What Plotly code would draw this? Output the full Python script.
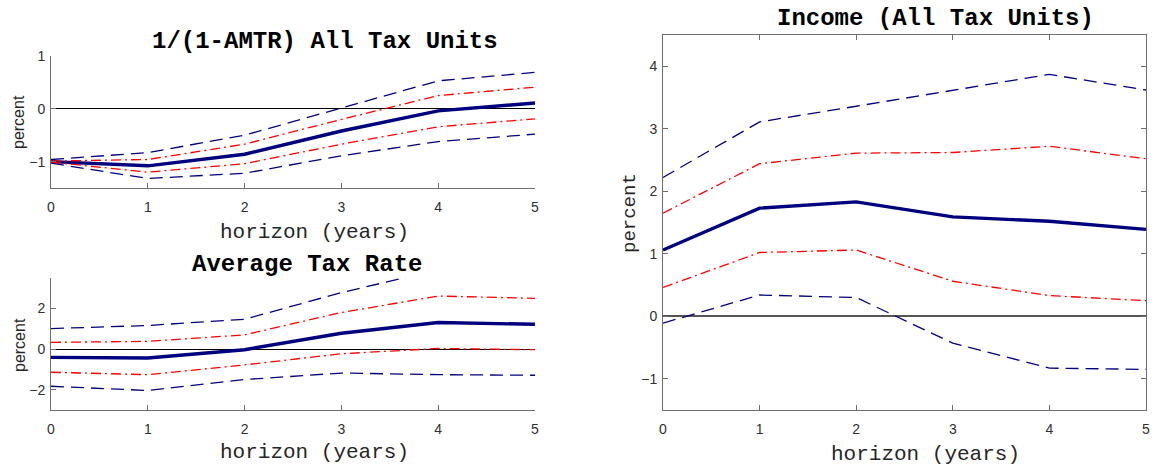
import plotly.graph_objects as go

# Impulse responses over a five-year horizon: point estimate with 68% and 90% bands
horizon = [0, 1, 2, 3, 4, 5]

amtr_mid = [-1.00, -1.08, -0.86, -0.42, -0.04, 0.11]
amtr_hi90 = [-0.96, -0.83, -0.50, 0.01, 0.53, 0.69]
amtr_hi68 = [-0.99, -0.96, -0.67, -0.20, 0.25, 0.41]
amtr_lo68 = [-1.01, -1.20, -1.04, -0.67, -0.34, -0.19]
amtr_lo90 = [-1.03, -1.32, -1.22, -0.89, -0.62, -0.48]

atr_mid = [-0.41, -0.44, -0.03, 0.78, 1.31, 1.22]
atr_hi90 = [1.01, 1.16, 1.47, 2.78, 3.90, 3.80]
atr_hi68 = [0.33, 0.38, 0.70, 1.80, 2.61, 2.50]
atr_lo68 = [-1.14, -1.26, -0.78, -0.23, 0.03, -0.03]
atr_lo90 = [-1.83, -2.04, -1.50, -1.18, -1.26, -1.29]

inc_mid = [1.06, 1.73, 1.83, 1.59, 1.52, 1.39]
inc_hi90 = [2.22, 3.11, 3.36, 3.62, 3.87, 3.62]
inc_hi68 = [1.65, 2.44, 2.61, 2.62, 2.72, 2.52]
inc_lo68 = [0.46, 1.02, 1.06, 0.56, 0.33, 0.25]
inc_lo90 = [-0.11, 0.34, 0.30, -0.43, -0.83, -0.85]

titles = ["1/(1-AMTR) All Tax Units", "Average Tax Rate", "Income (All Tax Units)"]
xlabel = "horizon (years)"
ylabel = "percent"

NAVY = "#00007f"
RED = "#ff0000"
AXIS = "#6e6e6e"
TICKTXT = "#303030"
MONO = "Liberation Mono, Courier New, monospace"
SANS = "Liberation Sans, Arial, Helvetica, sans-serif"

W, H = 1156, 468

fig = go.Figure()

panels = [
    (amtr_mid, amtr_hi90, amtr_hi68, amtr_lo68, amtr_lo90, "x", "y"),
    (atr_mid, atr_hi90, atr_hi68, atr_lo68, atr_lo90, "x2", "y2"),
    (inc_mid, inc_hi90, inc_hi68, inc_lo68, inc_lo90, "x3", "y3"),
]

for mid, hi90, hi68, lo68, lo90, xa, ya in panels:
    fig.add_trace(go.Scatter(x=horizon, y=mid, mode="lines", xaxis=xa, yaxis=ya,
                             line=dict(color=NAVY, width=3.4)))
    for band in (hi90, lo90):
        fig.add_trace(go.Scatter(x=horizon, y=band, mode="lines", xaxis=xa, yaxis=ya,
                                 line=dict(color=NAVY, width=1.3, dash="13px,7px")))
    for band in (hi68, lo68):
        fig.add_trace(go.Scatter(x=horizon, y=band, mode="lines", xaxis=xa, yaxis=ya,
                                 line=dict(color=RED, width=1.3, dash="10px,4px,2px,4px")))


def px_x(px):
    return px / W


def px_y(py):
    return 1 - py / H


def xaxis(left, right, anchor, mirror=False):
    return dict(
        domain=[px_x(left), px_x(right)], anchor=anchor, range=[0, 5], automargin=False,
        tickvals=horizon, ticks="inside", ticklen=5, tickcolor=AXIS, tickwidth=1,
        ticklabelstandoff=6,
        showline=True, linecolor=AXIS, linewidth=1, mirror="ticks" if mirror else False,
        showgrid=False, zeroline=False,
        tickfont=dict(family=SANS, size=14, color=TICKTXT),
    )


def yaxis(top, bottom, rng, ticks, anchor, zcolor, zwidth, mirror=False):
    return dict(
        domain=[px_y(bottom), px_y(top)], anchor=anchor, range=rng, automargin=False,
        tickvals=ticks, ticks="inside", ticklen=5, tickcolor=AXIS, tickwidth=1,
        ticklabelstandoff=2,
        showline=True, linecolor=AXIS, linewidth=1, mirror="ticks" if mirror else False,
        showgrid=False, zeroline=True, zerolinecolor=zcolor, zerolinewidth=zwidth,
        tickfont=dict(family=SANS, size=14, color=TICKTXT),
    )


fig.update_layout(
    template="none",
    width=W, height=H, margin=dict(l=0, r=0, t=0, b=0, pad=0), autosize=False,
    paper_bgcolor="white", plot_bgcolor="white", showlegend=False,
    xaxis=xaxis(51, 535, "y"),
    yaxis=yaxis(56, 188, [-1.5, 1], [-1, 0, 1], "x", "#000000", 1),
    xaxis2=xaxis(51, 535, "y2"),
    yaxis2=yaxis(278, 410, [-3, 3.5], [-2, 0, 2], "x2", "#000000", 1),
    xaxis3=xaxis(663, 1146, "y3", mirror=True),
    yaxis3=yaxis(35, 410, [-1.5, 4.5], [-1, 0, 1, 2, 3, 4], "x3", "#555555", 1.5, mirror=True),
)

annotations = []


def text(s, x, y, font, size, bold=False, angle=0, color="#000000"):
    annotations.append(dict(
        text=f"<b>{s}</b>" if bold else s, x=px_x(x), y=px_y(y), xref="paper", yref="paper",
        xanchor="center", yanchor="middle", showarrow=False, textangle=angle,
        font=dict(family=font, size=size, color=color),
    ))


# panel titles
text(titles[0], 325, 41, MONO, 24, bold=True)
text(titles[1], 307, 264, MONO, 24, bold=True)
text(titles[2], 935, 19, MONO, 24, bold=True)

# x-axis labels
text(xlabel, 314, 232, MONO, 21, color="#262626")
text(xlabel, 314, 452, MONO, 21, color="#262626")
text(xlabel, 926, 454, MONO, 21, color="#262626")

# y-axis labels
text(ylabel, 19, 122, SANS, 16, angle=-90, color="#262626")
text(ylabel, 19, 345, SANS, 16, angle=-90, color="#262626")
text(ylabel, 630, 213, MONO, 19, angle=-90, color="#262626")

fig.update_layout(annotations=annotations)

fig.write_html("out.html")
